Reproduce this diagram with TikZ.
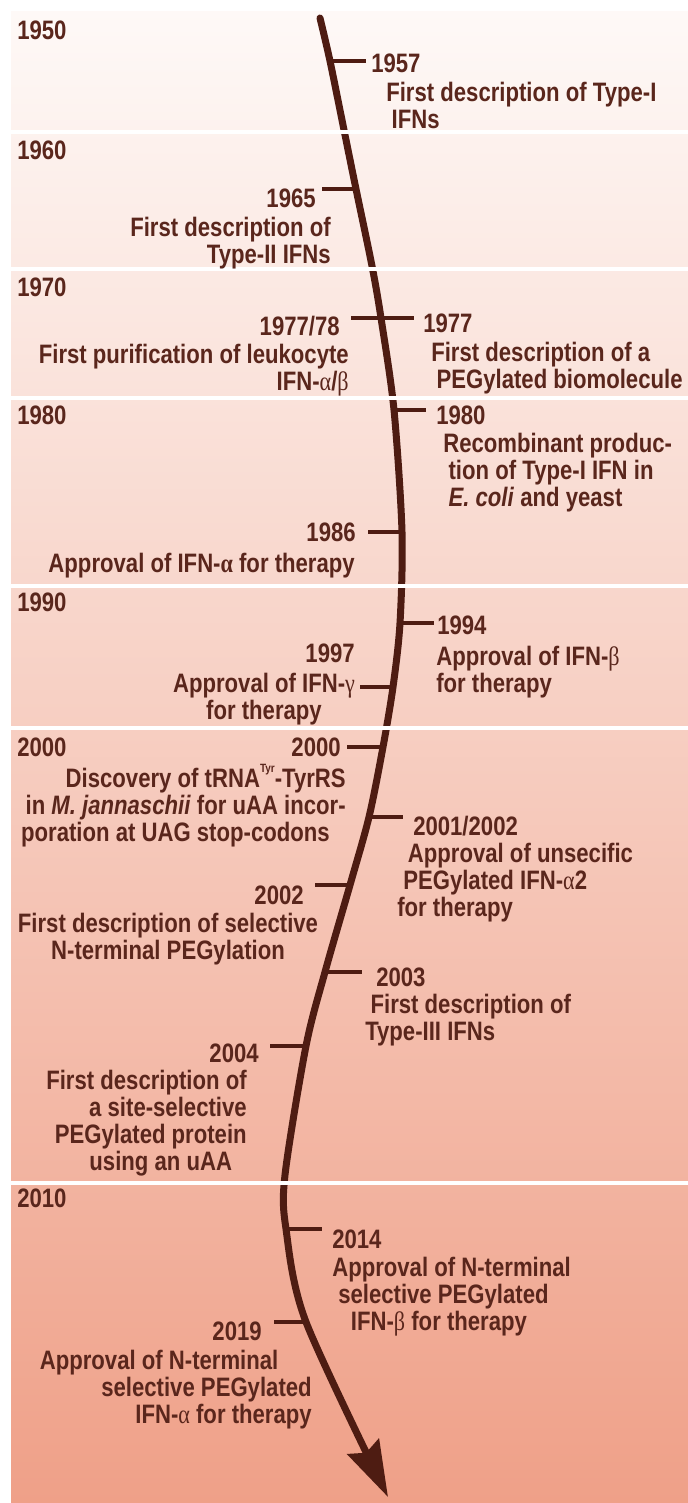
\documentclass[tikz,border=0pt]{standalone}
\usepackage{fontspec}
\setmainfont{Liberation Sans}[FakeStretch=0.83]
\newfontfamily\greekfont{Liberation Serif}[FakeStretch=0.83]
\usetikzlibrary{arrows.meta}

\definecolor{bandtop}{RGB}{254,249,247}
\definecolor{bandbottom}{RGB}{239,160,136}
\definecolor{inkbrown}{RGB}{90,38,28}
\definecolor{arrowbrown}{RGB}{78,28,18}

\newcommand{\gk}[1]{{\greekfont\mdseries #1}}

\begin{document}
\begin{tikzpicture}[x=0.75pt,y=-0.75pt,
  yearlabel/.style={font=\fontsize{20}{20.3}\selectfont\bfseries, text=inkbrown, inner sep=0pt},
  decade/.style={yearlabel, anchor=west},
  eventtext/.style={yearlabel, align=left},
  tickline/.style={draw=arrowbrown, line width=2.6pt}]
  \useasboundingbox (0,0) rectangle (688,1503);

  % Decade bands
  \shade[top color=bandtop, bottom color=bandbottom] (11,11) rectangle (688,1503);

  % Points on the time line
  \coordinate (c1957) at (330,61);
  \coordinate (c1965) at (356,189);
  \coordinate (c1977) at (381,318);
  \coordinate (c1980) at (394,410);
  \coordinate (c1986) at (402,532);
  \coordinate (c1994) at (400,623);
  \coordinate (c1997) at (393,687);
  \coordinate (c2000) at (383,747);
  \coordinate (c2001) at (369,817);
  \coordinate (c2002) at (350,885);
  \coordinate (c2003) at (325,972);
  \coordinate (c2004) at (306,1046);
  \coordinate (c2014) at (286,1229);
  \coordinate (c2019) at (306,1322);

  % Time line
  \draw[arrowbrown, line width=5.25pt, line cap=round,
        -{Stealth[length=42pt, width=26pt, inset=5pt]}]
    plot[smooth] coordinates {(320,18) (c1957) (344,130) (c1965) (372,266) (c1977)
      (c1980) (c1986) (c1994) (c1997) (c2000) (c2001) (c2002) (c2003) (c2004)
      (285,1175) (c2014) (c2019) (388,1497)};

  % Gaps between the bands
  \foreach \y in {131.5,269,397.5,585.5,727.5,1182.5}
    \draw[white, line width=3pt] (11,\y) -- (688,\y);

  % Ticks
  \draw[tickline] (c1957) -- ++(36,0);
  \draw[tickline] (c1965) -- ++(-34,0);
  \draw[tickline] (c1977) -- ++(-30,0) (c1977) -- ++(33,0);
  \draw[tickline] (c1980) -- ++(32,0);
  \draw[tickline] (c1986) -- ++(-34,0);
  \draw[tickline] (c1994) -- ++(34,0);
  \draw[tickline] (c1997) -- ++(-33,0);
  \draw[tickline] (c2000) -- ++(-36,0);
  \draw[tickline] (c2001) -- ++(34,0);
  \draw[tickline] (c2002) -- ++(-35,0);
  \draw[tickline] (c2003) -- ++(37,0);
  \draw[tickline] (c2004) -- ++(-36,0);
  \draw[tickline] (c2014) -- ++(36,0);
  \draw[tickline] (c2019) -- ++(-32,0);

  % Decades
  \node[decade] (dec1950) at (17,30) {1950};
  \node[decade] (dec1960) at (17,150) {1960};
  \node[decade] (dec1970) at (17,287) {1970};
  \node[decade] (dec1980) at (17,415) {1980};
  \node[decade] (dec1990) at (17,602) {1990};
  \node[decade] (dec2000) at (17,747) {2000};
  \node[decade] (dec2010) at (17,1198) {2010};

  % Years
  \node[yearlabel, anchor=west] (y1957) at (371,63) {1957};
  \node[yearlabel, anchor=east] (y1965) at (316,198) {1965};
  \node[yearlabel, anchor=east] (y1978) at (340,326) {1977/78};
  \node[yearlabel, anchor=west] (y1977) at (423,323) {1977};
  \node[yearlabel, anchor=west] (y1980) at (436,415) {1980};
  \node[yearlabel, anchor=east] (y1986) at (356,532) {1986};
  \node[yearlabel, anchor=west] (y1994) at (437,625) {1994};
  \node[yearlabel, anchor=east] (y1997) at (355,653) {1997};
  \node[yearlabel, anchor=east] (y2000) at (341,747) {2000};
  \node[yearlabel, anchor=west] (y2001) at (413,826) {2001/2002};
  \node[yearlabel, anchor=east] (y2002) at (304,895) {2002};
  \node[yearlabel, anchor=west] (y2003) at (376,977) {2003};
  \node[yearlabel, anchor=east] (y2004) at (259,1053) {2004};
  \node[yearlabel, anchor=west] (y2014) at (332,1239) {2014};
  \node[yearlabel, anchor=east] (y2019) at (262,1331) {2019};

  % Events
  \node[eventtext, anchor=north west] (e1957) at (386,82)
    {First description of Type-I\\\hspace*{4pt}IFNs};
  \node[eventtext, align=right, anchor=north east] (e1965) at (331,217)
    {First description of\\Type-II IFNs};
  \node[eventtext, align=right, anchor=north east] (e1978) at (349,344)
    {First purification of leukocyte\\IFN-\gk{α}/\gk{β}};
  \node[eventtext, anchor=north west] (e1977) at (431,342)
    {First description of a\\\hspace*{4pt}PEGylated biomolecule};
  \node[eventtext, anchor=north west] (e1980) at (443,433)
    {Recombinant produc-\\\hspace*{4pt}tion of Type-I IFN in\\\hspace*{4pt}\textit{E. coli} and yeast};
  \node[eventtext, align=right, anchor=north east] (e1986) at (355,553)
    {Approval of IFN-{\greekfont\bfseries α} for therapy};
  \node[eventtext, anchor=north west] (e1994) at (436,646)
    {Approval of IFN-\gk{β}\\for therapy};
  \node[eventtext, align=center, anchor=north] (e1997) at (264,673)
    {Approval of IFN-\gk{γ}\\for therapy};
  \node[eventtext, align=right, anchor=north east] (e2000) at (346,764)
    {Discovery of tRNA\raisebox{0.55em}{\fontsize{9}{9}\selectfont Tyr}-TyrRS\\in \textit{M. jannaschii} for uAA incor-\\poration at UAG stop-codons\hspace*{12pt}};
  \node[eventtext, anchor=north west] (e2001) at (397,843)
    {\hspace*{8pt}Approval of unsecific\\\hspace*{4.5pt}PEGylated IFN-\gk{α}2\\for therapy};
  \node[eventtext, align=center, anchor=north] (e2002) at (168,913)
    {First description of selective\\N-terminal PEGylation};
  \node[eventtext, anchor=north west] (e2003) at (365,994)
    {\hspace*{4pt}First description of\\Type-III IFNs};
  \node[eventtext, align=right, anchor=north east] (e2004) at (247,1070)
    {First description of\\a site-selective\hspace*{5pt}\\PEGylated protein\hspace*{11pt}\\using an uAA\hspace*{11pt}};
  \node[eventtext, anchor=north west] (e2014) at (332,1257)
    {Approval of N-terminal\\\hspace*{4.5pt}selective PEGylated\\\hspace*{14pt}IFN-\gk{β} for therapy};
  \node[eventtext, align=right, anchor=north east] (e2019) at (312,1350)
    {Approval of N-terminal\hspace*{25pt}\\selective PEGylated\hspace*{13.5pt}\\IFN-\gk{α} for therapy};
\end{tikzpicture}
\end{document}
